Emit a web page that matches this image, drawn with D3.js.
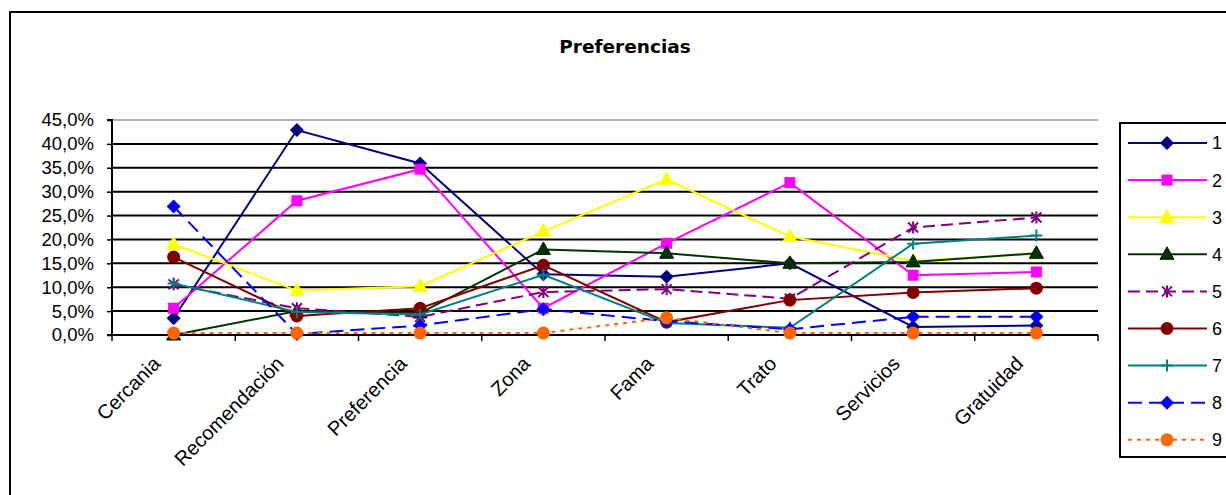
<!DOCTYPE html>
<html><head><meta charset="utf-8">
<script src="https://cdn.jsdelivr.net/npm/d3@7"></script>
<style>body{margin:0;background:#fff}svg{display:block}</style>
</head><body>
<svg id="c" width="1226" height="495"></svg>
<script>
const categories = ["Cercania","Recomendación","Preferencia","Zona","Fama","Trato","Servicios","Gratuidad"];
const seriesNames = ["1","2","3","4","5","6","7","8","9"];
const s1 = [3.5, 42.9, 35.9, 12.7, 12.2, 15.0, 1.7, 2.0];
const s2 = [5.6, 28.1, 34.7, 5.6, 19.2, 31.9, 12.5, 13.2];
const s3 = [19.0, 9.3, 10.2, 21.7, 32.6, 20.6, 15.5, 17.0];
const s4 = [0.0, 5.0, 4.6, 17.9, 17.1, 15.0, 15.3, 17.1];
const s5 = [10.6, 5.6, 3.8, 9.0, 9.6, 7.6, 22.5, 24.6];
const s6 = [16.3, 4.0, 5.6, 14.6, 2.7, 7.3, 8.9, 9.8];
const s7 = [10.8, 4.8, 4.3, 12.6, 2.5, 1.5, 19.1, 20.8];
const s8 = [26.9, 0.2, 2.0, 5.4, 2.9, 1.2, 3.8, 3.8];
const s9 = [0.4, 0.4, 0.4, 0.4, 3.6, 0.4, 0.4, 0.4];
const yTicks = [0,5,10,15,20,25,30,35,40,45];
const allSeries = [s1,s2,s3,s4,s5,s6,s7,s8,s9];

const styles = [
  {color:"#000080", fill:"#000080", mk:"diamond", dash:null},
  {color:"#FF00FF", fill:"#FF00FF", mk:"square", dash:null},
  {color:"#FFFF00", fill:"#FFFF00", mk:"triangle", dash:null},
  {color:"#003300", fill:"#003300", mk:"triangle", dash:null},
  {color:"#800080", fill:"#800080", mk:"star", dash:"12,6"},
  {color:"#800000", fill:"#800000", mk:"circle", dash:null},
  {color:"#008080", fill:"#008080", mk:"plus", dash:null},
  {color:"#0000FF", fill:"#0000FF", mk:"diamond", dash:"14,7"},
  {color:"#FF6600", fill:"#FF6600", mk:"circle", dash:"4,5"}
];

const svg = d3.select("#c");
const L=112, R=1098, T=120, B=335;
const x = d3.scaleBand().domain(categories).range([L,R]);
const y = d3.scaleLinear().domain([0,45]).range([B,T]);
const cx = c => x(c) + x.bandwidth()/2;

// chart border
svg.append("rect").attr("x",10).attr("y",12).attr("width",1240).attr("height",500)
  .attr("fill","none").attr("stroke","#000").attr("stroke-width",2);

// title
svg.append("text").attr("x",625).attr("y",53).attr("text-anchor","middle")
  .attr("font-family","DejaVu Sans").attr("font-weight","bold").attr("font-size",18.5)
  .text("Preferencias");

// gridlines
svg.append("g").selectAll("line").data(yTicks.filter(t=>t>0)).join("line")
  .attr("x1",L).attr("x2",R).attr("y1",d=>y(d)).attr("y2",d=>y(d))
  .attr("stroke",d=>d===45?"#b0b0b0":"#000").attr("stroke-width",2);

// y axis
const fmt = d3.format(".1f");
const yAxis = d3.axisLeft(y).tickValues(yTicks).tickSize(5).tickPadding(13)
  .tickFormat(d=>fmt(d).replace(".",",")+"%");
const gy = svg.append("g").attr("transform",`translate(${L},0)`).call(yAxis);
gy.select(".domain").attr("stroke","#000").attr("stroke-width",2).attr("d",`M-5,${T}H0V${B}H-5`);
gy.selectAll(".tick line").attr("stroke","#000").attr("stroke-width",1.5);
gy.selectAll("text").attr("font-family","Liberation Sans, Arial").attr("font-size",18.5).attr("fill","#000");

// x axis
const xAxis = d3.axisBottom(x).tickSize(0).tickFormat("");
const gx = svg.append("g").attr("transform",`translate(0,${B})`).call(xAxis);
gx.select(".domain").attr("stroke","#000").attr("stroke-width",2).attr("d",`M${L},0H${R}`);
const bounds = categories.map(c=>x(c)).concat([R]);
gx.selectAll("line.bt").data(bounds).join("line").attr("class","bt")
  .attr("x1",d=>d).attr("x2",d=>d).attr("y1",0).attr("y2",6).attr("stroke","#000").attr("stroke-width",1.5);
svg.append("g").selectAll("text").data(categories).join("text")
  .attr("transform",d=>`translate(${cx(d)-12},${B+30}) rotate(-45)`)
  .attr("text-anchor","end")
  .attr("font-family","Liberation Sans, Arial").attr("font-size",20).text(d=>d);

// markers
function marker(g, type, st, px, py){
  if(type==="diamond"){
    const r=7;
    g.append("path").attr("d",`M${px},${py-r}L${px+r},${py}L${px},${py+r}L${px-r},${py}Z`)
      .attr("fill",st.fill);
  } else if(type==="square"){
    g.append("rect").attr("x",px-5.5).attr("y",py-5.5).attr("width",11).attr("height",11)
      .attr("fill",st.fill);
  } else if(type==="triangle"){
    g.append("path").attr("d",`M${px},${py-7.5}L${px+7},${py+5}L${px-7},${py+5}Z`)
      .attr("fill",st.fill).attr("stroke",st.color==="#FFFF00"?"#FFFF00":"#001a00").attr("stroke-width",1);
  } else if(type==="circle"){
    g.append("circle").attr("cx",px).attr("cy",py).attr("r",6.5).attr("fill",st.fill);
  } else if(type==="plus"){
    g.append("path").attr("d",`M${px-6},${py}H${px+6}M${px},${py-6}V${py+6}`).attr("stroke",st.color).attr("stroke-width",2);
  } else if(type==="star"){
    g.append("path").attr("d",`M${px-5},${py-5}L${px+5},${py+5}M${px-5},${py+5}L${px+5},${py-5}M${px},${py-6}V${py+6}`)
      .attr("stroke",st.color).attr("stroke-width",2);
  }
}

const line = d3.line().x((d,i)=>cx(categories[i])).y(d=>y(d));
allSeries.forEach((s,k)=>{
  const st = styles[k];
  const g = svg.append("g");
  g.append("path").attr("d",line(s)).attr("fill","none").attr("stroke",st.color)
    .attr("stroke-width",2).attr("stroke-dasharray",st.dash);
  s.forEach((v,i)=>marker(g, st.mk, st, cx(categories[i]), y(v)));
});

// legend
const lg = svg.append("g");
lg.append("rect").attr("x",1120).attr("y",123).attr("width",140).attr("height",334)
  .attr("fill","#fff").attr("stroke","#000").attr("stroke-width",2);
seriesNames.forEach((n,k)=>{
  const st = styles[k];
  const yy = 143 + k*37.1;
  lg.append("line").attr("x1",1128).attr("x2",1207).attr("y1",yy).attr("y2",yy)
    .attr("stroke",st.color).attr("stroke-width",2).attr("stroke-dasharray",st.dash);
  marker(lg, st.mk, st, 1167, yy);
  lg.append("text").attr("x",1212).attr("y",yy).attr("dy","0.36em")
    .attr("font-family","Liberation Sans, Arial").attr("font-size",18).text(n);
});
</script>
</body></html>
